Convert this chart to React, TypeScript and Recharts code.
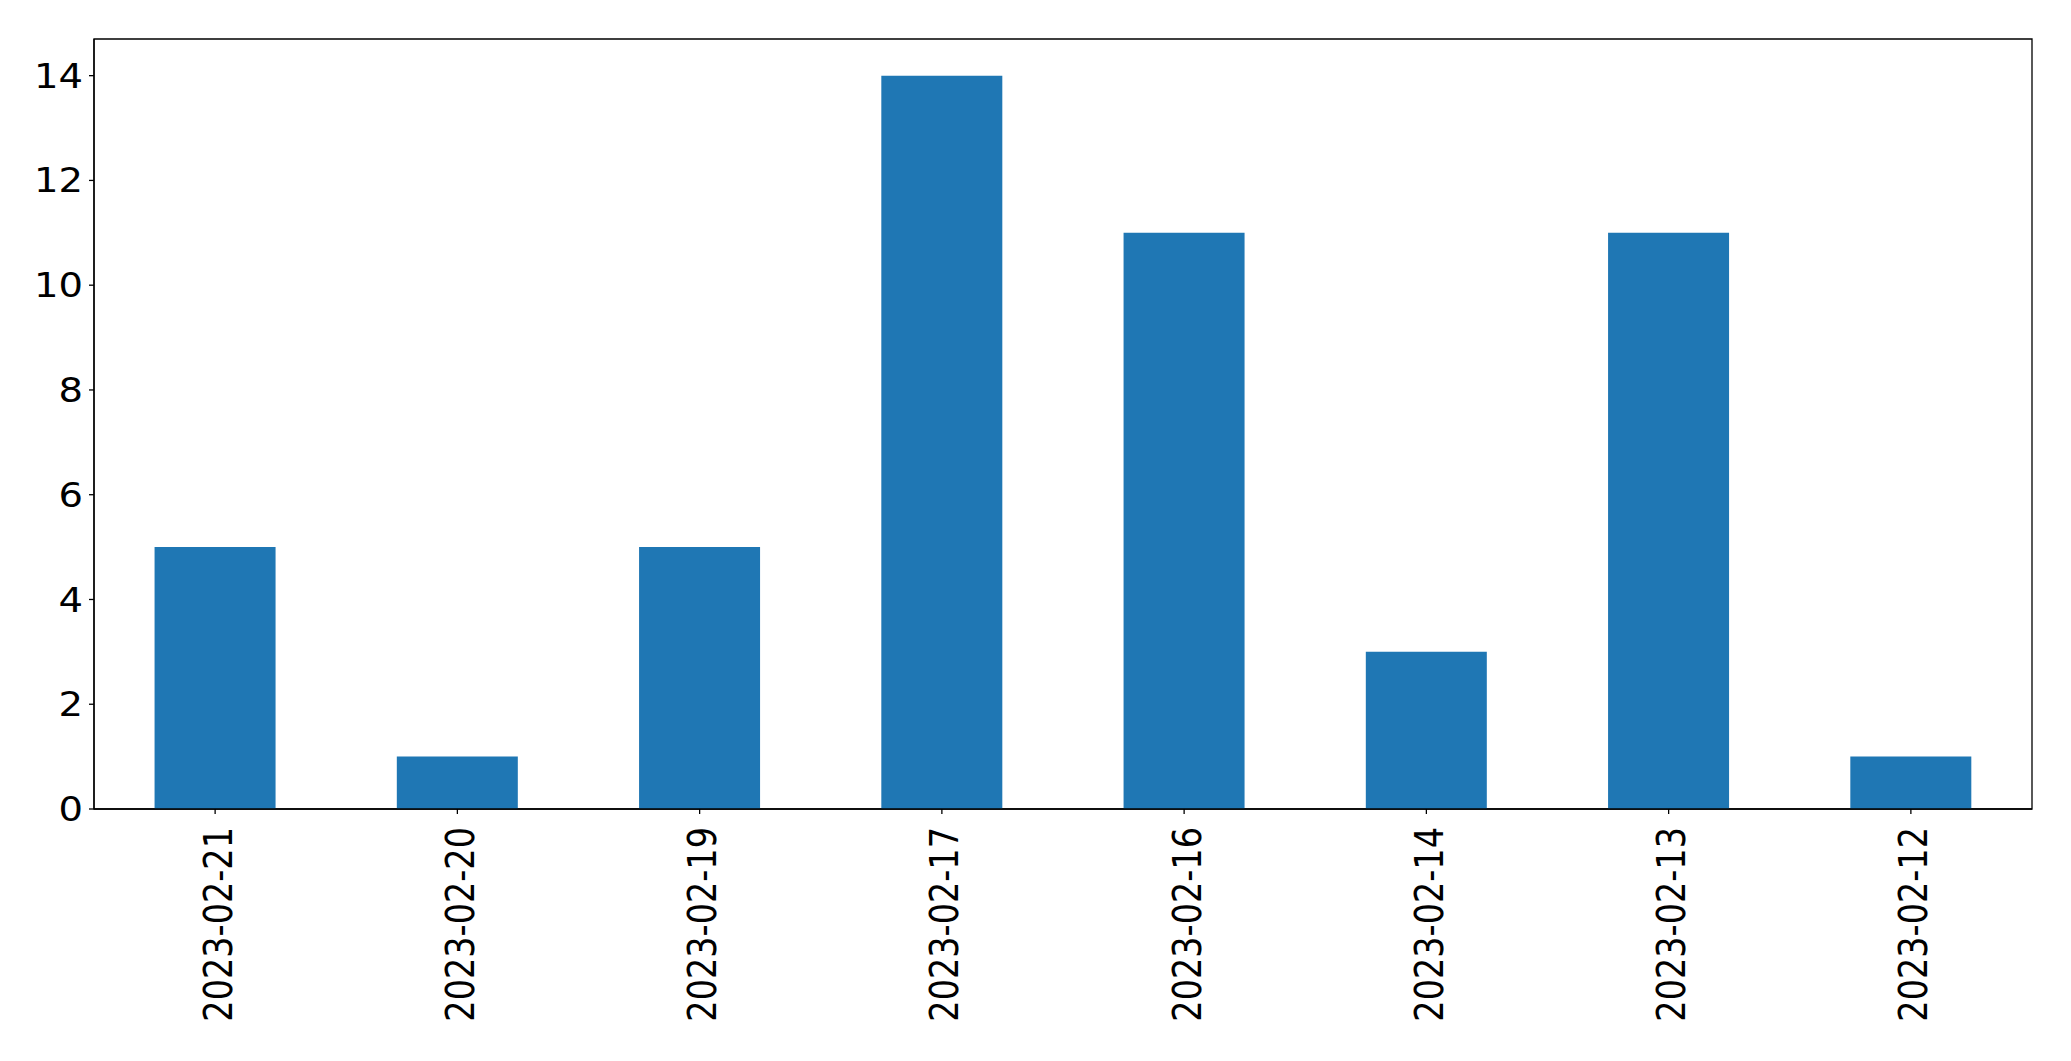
import * as React from 'react'
import { BarChart, Bar, XAxis, YAxis, ReferenceArea } from 'recharts'

const dates = [
  '2023-02-21',
  '2023-02-20',
  '2023-02-19',
  '2023-02-17',
  '2023-02-16',
  '2023-02-14',
  '2023-02-13',
  '2023-02-12',
]
const counts = [5, 1, 5, 14, 11, 3, 11, 1]
const yTicks = [0, 2, 4, 6, 8, 10, 12, 14]
const yMax = 14.7

const FONT = '"DejaVu Sans", sans-serif'
const FONT_SIZE = 33.5
// the reference glyphs are a bit wider than tall
const STRETCH = 1.15

const chartData = dates.map((date, i) => ({ date, count: counts[i] }))

// rotated date label, end of the string sits just under the tick
const DateTick = (props: any) => {
  const { x, y, payload } = props
  return (
    <g transform={`translate(${x},${y + 13}) scale(${STRETCH},1)`}>
      <text
        transform="rotate(-90)"
        textAnchor="end"
        dy="0.43em"
        fill="#000"
        fontSize={FONT_SIZE}
        fontFamily={FONT}
      >
        {payload.value}
      </text>
    </g>
  )
}

const CountTick = (props: any) => {
  const { x, y, payload } = props
  return (
    <g transform={`translate(${x},${y}) scale(${STRETCH},1)`}>
      <text
        textAnchor="end"
        dy="0.36em"
        fill="#000"
        fontSize={FONT_SIZE}
        fontFamily={FONT}
      >
        {payload.value}
      </text>
    </g>
  )
}

export default function App() {
  return (
    <div style={{ position: 'fixed', left: 0, top: 0, background: '#fff' }}>
      <BarChart
        width={2071}
        height={1061}
        data={chartData}
        margin={{ top: 39, right: 39, left: 0, bottom: 0 }}
        barCategoryGap="25%"
      >
        <XAxis
          dataKey="date"
          height={252}
          tick={<DateTick />}
          tickSize={5}
          tickMargin={0}
          interval={0}
          axisLine={{ stroke: '#000', strokeWidth: 1.3 }}
          tickLine={{ stroke: '#000', strokeWidth: 1.3 }}
        />
        <YAxis
          width={94}
          domain={[0, yMax]}
          ticks={yTicks}
          allowDataOverflow
          tickSize={5}
          tickMargin={6}
          tick={<CountTick />}
          axisLine={{ stroke: '#000', strokeWidth: 1.3 }}
          tickLine={{ stroke: '#000', strokeWidth: 1.3 }}
        />
        <Bar dataKey="count" fill="#1f77b4" isAnimationActive={false} />
        {/* frame around the plot area */}
        <ReferenceArea
          x1={dates[0]}
          x2={dates[dates.length - 1]}
          y1={0}
          y2={yMax}
          fill="none"
          fillOpacity={0}
          stroke="#000"
          strokeWidth={1.3}
          strokeOpacity={1}
          ifOverflow="visible"
        />
      </BarChart>
    </div>
  )
}
